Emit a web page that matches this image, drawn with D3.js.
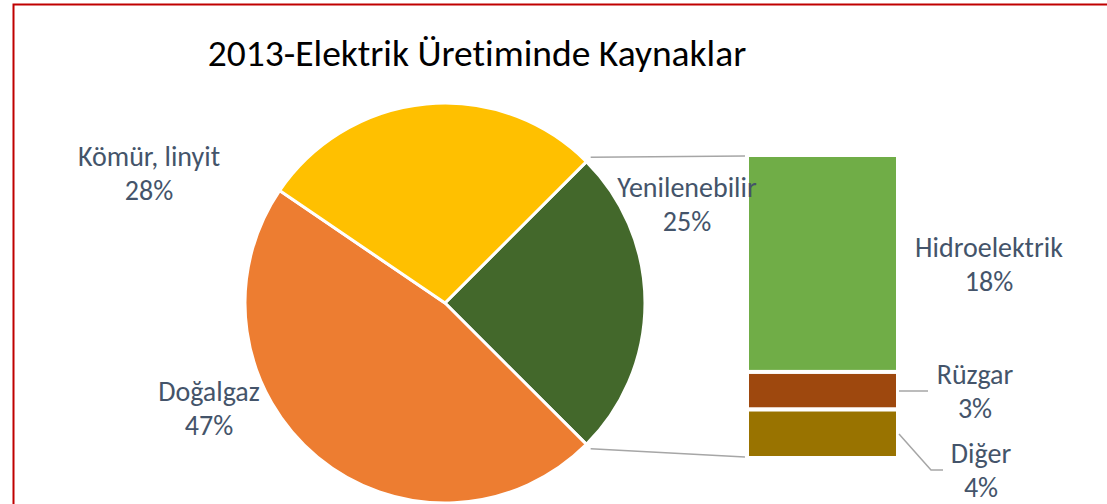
<!DOCTYPE html>
<html>
<head>
<meta charset="utf-8">
<title>2013 Elektrik</title>
<script src="https://cdn.jsdelivr.net/npm/d3@7"></script>
<style>
  * { margin: 0; padding: 0; }
  body { background: #fff; overflow: hidden; }
  text { font-family: Carlito, Calibri, Lato, sans-serif; font-variant-ligatures: none; }
</style>
</head>
<body>
<div id="chart"></div>
<script>
// main pie
const pieNames = ['Yenilenebilir', 'Doğalgaz', 'Kömür, linyit']
const pieValues = [25, 47, 28]
const pieColors = ['#43682b', '#ed7d31', '#ffc000']

// the "Yenilenebilir" slice split into the bar
const barNames = ['Hidroelektrik', 'Rüzgar', 'Diğer']
const barValues = [17.9, 3.1, 4.0]
const barColors = ['#70ad47', '#9e480e', '#997300']

const W = 1107, H = 504
const svg = d3.select('#chart').append('svg')
    .attr('width', W).attr('height', H)

// frame
svg.append('rect')
    .attr('x', 13.5).attr('y', 4.5)
    .attr('width', 1200).attr('height', 600)
    .attr('fill', 'none').attr('stroke', '#c00000').attr('stroke-width', 2)

svg.append('text')
    .attr('x', 477).attr('y', 66)
    .attr('text-anchor', 'middle')
    .attr('font-size', 37.5).attr('fill', '#000')
    .text('2013-Elektrik Üretiminde Kaynaklar')

const cx = 445, cy = 303, r = 200
const pie = d3.pie().sort(null)
    .startAngle(Math.PI / 4).endAngle(Math.PI / 4 + 2 * Math.PI)
const arc = d3.arc().innerRadius(0).outerRadius(r)
const arcs = pie(pieValues)

const g = svg.append('g').attr('transform', `translate(${cx},${cy})`)
g.selectAll('path').data(arcs).enter().append('path')
    .attr('d', arc)
    .attr('fill', (d, i) => pieColors[i])
    .attr('stroke', '#fff').attr('stroke-width', 3)
    .attr('stroke-linejoin', 'round')

// bar of pie
const y = d3.scaleLinear().domain([0, d3.sum(barValues)]).range([155, 458])
const x = d3.scaleBand().domain(['bar']).range([747, 898])
let acc = 0
const stack = barValues.map(v => { const s = { y0: acc, y1: acc + v }; acc += v; return s })
svg.selectAll('rect.bar').data(stack).enter().append('rect')
    .attr('class', 'bar')
    .attr('x', x('bar')).attr('width', x.bandwidth())
    .attr('y', d => y(d.y0)).attr('height', d => y(d.y1) - y(d.y0))
    .attr('fill', (d, i) => barColors[i])
    .attr('stroke', '#fff').attr('stroke-width', 4)

// connector lines from the split slice to the bar
function pt(a, rr) { return [cx + rr * Math.sin(a), cy - rr * Math.cos(a)] }
const split = arcs[0]
const p1 = pt(split.startAngle, r + 6), p2 = pt(split.endAngle, r + 6)
svg.append('line')
    .attr('x1', p1[0]).attr('y1', p1[1]).attr('x2', x('bar') - 2).attr('y2', y(0) + 1)
    .attr('stroke', '#a6a6a6').attr('stroke-width', 1.5)
svg.append('line')
    .attr('x1', p2[0]).attr('y1', p2[1]).attr('x2', x('bar') - 2).attr('y2', y(acc) - 1)
    .attr('stroke', '#a6a6a6').attr('stroke-width', 1.5)

// data labels
const pct = v => Math.round(v) + '%'
const labels = [
    { name: pieNames[0], v: pieValues[0], x: 687, y: 197 },
    { name: pieNames[1], v: pieValues[1], x: 209, y: 401 },
    { name: pieNames[2], v: pieValues[2], x: 149, y: 166 },
    { name: barNames[0], v: barValues[0], x: 989, y: 257 },
    { name: barNames[1], v: barValues[1], x: 975, y: 384 },
    { name: barNames[2], v: barValues[2], x: 981, y: 463 }
]
const lab = svg.selectAll('text.lab').data(labels).enter().append('text')
    .attr('class', 'lab')
    .attr('text-anchor', 'middle')
    .attr('font-size', 28).attr('fill', '#44546a')
    .attr('y', d => d.y)
lab.append('tspan').attr('x', d => d.x).text(d => d.name)
lab.append('tspan').attr('x', d => d.x).attr('dy', 34).text(d => pct(d.v))

// leader lines for the small bar labels
svg.append('polyline')
    .attr('points', '899,391 928,391')
    .attr('fill', 'none').attr('stroke', '#a6a6a6').attr('stroke-width', 1.5)
svg.append('polyline')
    .attr('points', '899,434 931,470 943,470')
    .attr('fill', 'none').attr('stroke', '#a6a6a6').attr('stroke-width', 1.5)
</script>
</body>
</html>
